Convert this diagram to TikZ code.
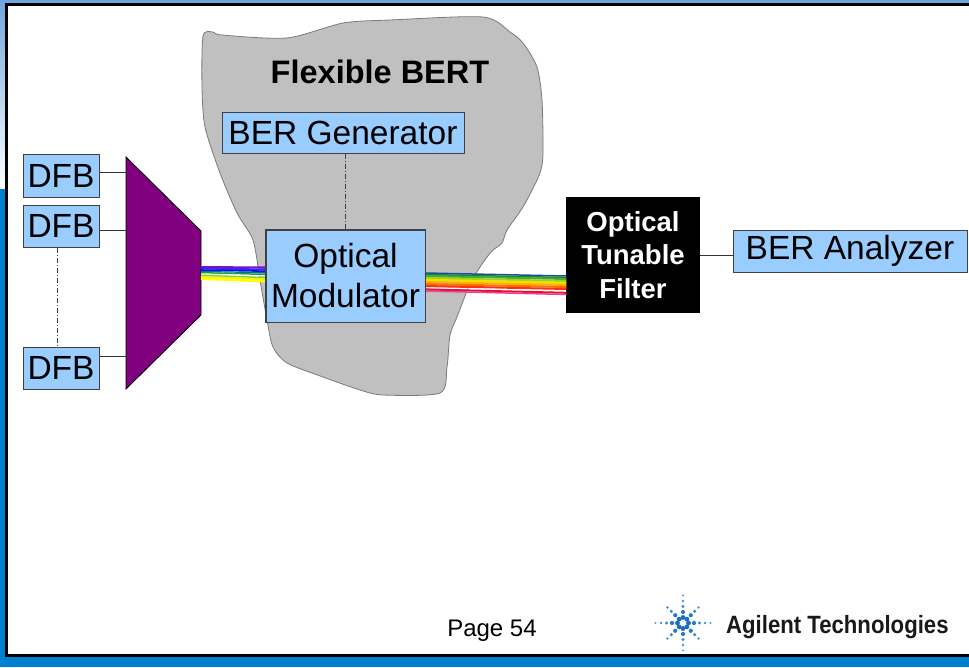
\documentclass[tikz,border=0pt]{standalone}
\usepackage{fontspec}
\setmainfont{Liberation Sans}
\usepackage{graphicx}
\usetikzlibrary{calc}

\definecolor{boxblue}{HTML}{99CCFF}
\definecolor{boxedge}{HTML}{404040}
\definecolor{frameblue}{HTML}{0080D0}
\definecolor{skyblue}{HTML}{6FA6DC}
\definecolor{blobgray}{HTML}{C0C0C0}
\definecolor{bloboutline}{HTML}{7A7A7A}
\definecolor{muxpurple}{HTML}{800080}
\definecolor{sparkdark}{HTML}{1A6CC4}
\definecolor{sparklight}{HTML}{7AB4EA}

\tikzset{
  blockbox/.style={draw=boxedge, line width=1pt, fill=boxblue, inner sep=0pt,
    font=\fontsize{33.5}{40}\selectfont, align=center},
  filterbox/.style={fill=black, inner sep=0pt, text=white,
    font=\bfseries\fontsize{27.5}{33.5}\selectfont, align=center},
  wire/.style={draw=black!80, line width=1pt},
  dashdotline/.style={draw=black!75, line width=0.9pt,
    dash pattern=on 5pt off 2pt on 1pt off 2pt},
  beam/.style={line width=#1, line cap=butt},
}

\begin{document}
\begin{tikzpicture}[x=1pt,y=-1pt]
\useasboundingbox (0,0) rectangle (969,667);

% frame of the slide
\fill[frameblue] (0,0) rectangle (969,667);
\fill[skyblue] (0,0) rectangle (969,6);
\shade[top color=skyblue, bottom color=white] (0,0) rectangle (7,188);
\draw[line width=3pt, fill=white] (6.5,4.5) rectangle (985,655.5);

% Flexible BERT cloud
\filldraw[fill=blobgray, draw=bloboutline, line width=0.8pt]
  plot[smooth cycle, tension=0.45] coordinates {
    (203,36) (213,32) (222,35) (287,38) (343,23) (390,20) (483,17)
    (510,32) (523,43) (537,67) (542,100) (543,153) (540,173) (527,200)
    (519,213) (507,230) (502,243) (492,251) (482,264) (470,284)
    (457,317) (450,335) (447,367) (440,393) (383,395) (360,390)
    (323,377) (287,363) (273,347) (267,320) (260,280) (253,240)
    (237,213) (220,173) (205,127) (202,87)};
\node[font=\bfseries\fontsize{32.5}{38}\selectfont, anchor=base] (title) at (380,83) {Flexible BERT};

% multiplexer
\filldraw[fill=muxpurple, draw=black, line width=0.8pt]
  (126,157) -- (201,231) -- (201,315) -- (126,389) -- cycle;
\coordinate (m1) at (126,172);
\coordinate (m2) at (126,230);
\coordinate (m3) at (126,356);
\coordinate (muxR) at (201,274);

% blocks
\node[blockbox, minimum width=76pt, minimum height=43pt] (d1) at (61,175.5) {DFB};
\node[blockbox, minimum width=76pt, minimum height=42pt] (d2) at (61,226) {DFB};
\node[blockbox, minimum width=76pt, minimum height=42pt] (d3) at (61,368) {DFB};
\node[blockbox, minimum width=242pt, minimum height=41pt] (gen) at (343,132.5) {BER Generator};
\node[blockbox, minimum width=159pt, minimum height=92pt] (mod) at (345.5,276) {Optical\\Modulator};
\node[filterbox, minimum width=134pt, minimum height=116pt] (otf) at (633,255) {Optical\\Tunable\\Filter};
\node[blockbox, minimum width=234pt, minimum height=42pt] (ana) at (850,251) {BER Analyzer};

% light from the lasers into the modulator
\foreach \a/\b/\c/\w in {-7/-8.5/8010C0/2pt, -5.5/-6.5/4020FF/2pt,
    -4/-4.8/0018E0/1.6pt, -2.6/-3.2/0070A0/1.2pt, -1.3/-1.6/20A040/1.5pt,
    0/0/FFFFFF/1pt, 1.3/1.6/80D020/1.5pt, 2.8/3.3/E8F020/2pt, 4.6/5.3/FFFF00/2.5pt}{
  \definecolor{bc}{HTML}{\c}
  \draw[beam=\w, bc] ($(muxR)+(0,\a)$) -- ($(mod.west)+(0.5,\b)$);
}

% modulated light towards the filter
\foreach \a/\b/\c/\w in {-3/21/1850A0/1.5pt, -1.5/22.5/208040/1.5pt,
    0/24/40B030/2pt, 2/26/A0D020/2pt, 4/28/F0E000/2.5pt, 6/30/FFB000/2pt,
    8/32/FF7000/2pt, 10/34/FF3010/2pt, 11.8/36/FFFFFF/1pt,
    13.4/37.8/E01040/2pt, 15/39.5/F04090/1.5pt}{
  \definecolor{bc}{HTML}{\c}
  \draw[beam=\w, bc] ($(mod.east)+(-0.5,\a)$) -- ($(otf.west)+(0.5,\b)$);
}

% redraw the modulator outline over the beam ends
\draw[boxedge, line width=1pt] (mod.north west) rectangle (mod.south east);

% connectors
\draw[wire] (d1.east |- m1) -- (m1);
\draw[wire] (d2.east |- m2) -- (m2);
\draw[wire] (d3.east |- m3) -- (m3);
\draw[dashdotline] ([xshift=-4pt]d2.south) -- ([xshift=-4pt]d3.north);
\draw[dashdotline] (gen.south -| mod.north) -- (mod.north);
\draw[wire] (otf.east) -- (otf.east -| ana.west);

% footer
\node[font=\fontsize{24}{28}\selectfont, anchor=base] (page) at (492,636) {Page 54};

% company spark: dots shrinking and fading along eight rays
\coordinate (spark) at (683,623);
\foreach \ang/\len in {0/30,45/24,90/33,135/24,180/30,225/24,270/33,315/24}{
  \foreach \r/\s in {5.5/2.4,11/2.1,16.5/1.7,22/1.35,27.5/1.05,33/0.8}{
    \pgfmathsetmacro{\mix}{(\r-5.5)*3}
    \ifdim\r pt<\len pt
      \fill[sparklight!\mix!sparkdark] ($(spark)+(\ang:\r)$) circle (\s);
    \fi
  }
}
\node[font=\bfseries\fontsize{25}{28}\selectfont, text=black!90, anchor=base west, inner sep=0pt]
  (brand) at (726,633) {\scalebox{0.886}[1]{Agilent Technologies}};

\end{tikzpicture}
\end{document}
